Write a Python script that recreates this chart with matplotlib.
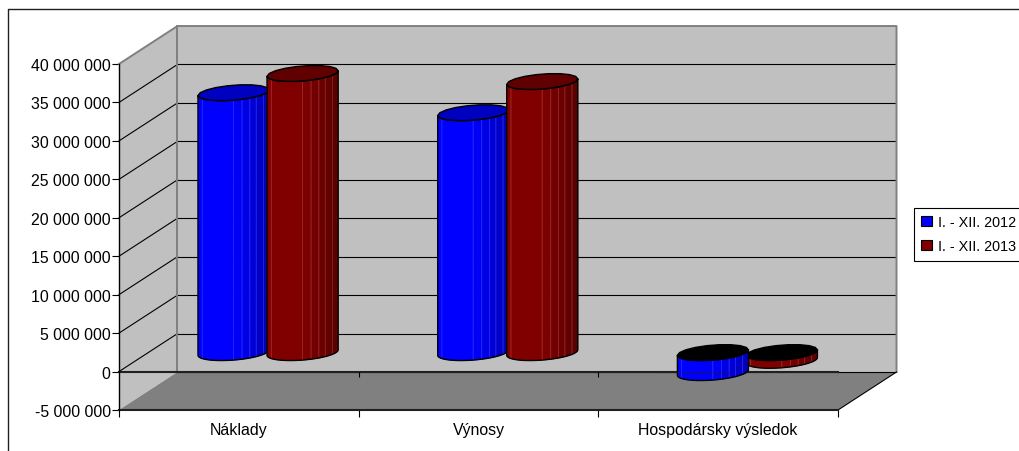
# -*- coding: utf-8 -*-
import numpy as np
import matplotlib
matplotlib.use('Agg')
import matplotlib.pyplot as plt
from matplotlib.patches import Polygon, Patch
from matplotlib.lines import Line2D

plt.rcParams['font.family'] = ['Liberation Sans', 'DejaVu Sans']

#%% data
categories = ['Náklady', 'Výnosy', 'Hospodársky výsledok']
series_names = ['I. - XII. 2012', 'I. - XII. 2013']
values_2012 = [33800000, 31200000, -2600000]
values_2013 = [36300000, 35250000, -1000000]
y_ticks = list(range(-5000000, 40000001, 5000000))
y_labels = ['-5 000 000', '0', '5 000 000', '10 000 000', '15 000 000', '20 000 000',
            '25 000 000', '30 000 000', '35 000 000', '40 000 000']

#%% style
W, H = 1019, 452
wall = '#c0c0c0'
floor = '#808080'
edge = '#808080'
colors = [(0, 0, 1), (0.5, 0, 0)]
top_colors = ['#0000c0', '#600000']

# depth of the 3d box, in axis units
depth_x = 58.5 / 239.67
depth_y = 4940000
bar_offset = 0.144
bar_a = 0.139
bar_f = 0.21
y_min, y_max = -5000000, 40000000
# facet edges across a cylinder, 0 left side, 1 right side
facet_edges = [0, 0.06, 0.5, 0.62, 0.73, 0.82, 0.92, 1]

fig = plt.figure(figsize=(W / 100, H / 100), dpi=100)
ax = fig.add_axes([119 / W, (H - 411) / H, (838 - 119) / W, (411 - 65) / H])
ax.set_xlim(0, 3)
ax.set_ylim(y_min, y_max)
ax.patch.set_visible(False)
for s in ['top', 'right', 'bottom']:
    ax.spines[s].set_visible(False)
ax.spines['left'].set_linewidth(1.0)
ax.spines['left'].set_zorder(6)

# walls and floor
ax.add_patch(Polygon([(0, y_min), (0, y_max), (depth_x, y_max + depth_y), (depth_x, y_min + depth_y)],
                     fc=wall, ec='none', clip_on=False, zorder=1))
ax.add_patch(Polygon([(depth_x, y_min + depth_y), (depth_x, y_max + depth_y),
                      (3 + depth_x, y_max + depth_y), (3 + depth_x, y_min + depth_y)],
                     fc=wall, ec='none', clip_on=False, zorder=1))
ax.add_patch(Polygon([(0, y_min), (3, y_min), (3 + depth_x, y_min + depth_y), (depth_x, y_min + depth_y)],
                     fc=floor, ec='none', clip_on=False, zorder=1))

# gridlines
for v in y_ticks[:-1]:
    if v > y_min:
        ax.plot([0, depth_x], [v, v + depth_y], color='k', lw=0.8, clip_on=False, zorder=2)
    ax.plot([depth_x, 3 + depth_x], [v + depth_y, v + depth_y], color='k', lw=0.8, clip_on=False, zorder=2)

# wall edges
ax.plot([0, depth_x, 3 + depth_x, 3 + depth_x], [y_max, y_max + depth_y, y_max + depth_y, y_min + depth_y],
        color=edge, lw=1.4, clip_on=False, zorder=3)
ax.plot([depth_x, depth_x], [y_min + depth_y, y_max + depth_y], color=edge, lw=1.4, clip_on=False, zorder=3)
ax.plot([3, 3 + depth_x], [y_min, y_min + depth_y], color='k', lw=0.8, clip_on=False, zorder=3)

# axis lines
ax.plot([0, 3], [y_min, y_min], color='#202020', lw=1.5, clip_on=False, zorder=3)
ax.plot([0, 3], [0, 0], color='#202020', lw=1.5, clip_on=False, zorder=3)
ax.vlines([1, 2, 3], -700000, 0, color='k', lw=0.8, zorder=3)


def ring(cx, cy, t):
    dx = bar_f * depth_x
    dy = bar_f * depth_y
    return np.column_stack([cx + bar_a * np.cos(t) + dx * np.sin(t), cy + dy * np.sin(t)])


def cylinder(center, value, color, top_color, z):
    cx = center + depth_x / 2
    base = depth_y / 2
    t0 = np.arctan2(bar_f * depth_x * 239.67, bar_a * 239.67)
    upper = base + max(value, 0)
    lower = base + min(value, 0)
    # front half of the ring, left to right, spaced by the facet edges
    p = np.array(facet_edges)
    t = t0 - np.pi + np.arccos(1 - 2 * p)
    for i in range(len(p) - 1):
        pos = (p[i] + p[i + 1]) / 2
        shade = 1 if pos < 0.5 else 1 - 0.6 * (pos - 0.5)
        fc = tuple(c * shade for c in color)
        ec = tuple(min(1, c * shade + 0.14) for c in color)
        arc = np.linspace(t[i], t[i + 1], 8)
        ax.add_patch(Polygon(np.vstack([ring(cx, upper, arc), ring(cx, lower, arc[::-1])]),
                             fc=fc, ec=ec, lw=0.6, clip_on=False, zorder=z))
    arc = np.linspace(t[0], t[-1], 40)
    ax.add_patch(Polygon(np.vstack([ring(cx, upper, arc), ring(cx, lower, arc[::-1])]),
                         fc='none', ec='k', lw=1.0, clip_on=False, zorder=z))
    # end cap: the inner side shows black on a negative bar
    cap = 'k' if value < 0 else top_color
    ax.add_patch(Polygon(ring(cx, upper, np.linspace(0, 2 * np.pi, 19)[:-1]), fc=cap, ec='k', lw=1.0,
                         clip_on=False, zorder=z))


for i in range(len(categories)):
    mid = i + 0.5
    # on the negative pair the first bar sits in front
    z1, z2 = (4, 4.5) if values_2012[i] >= 0 else (4.5, 4)
    cylinder(mid - bar_offset, values_2012[i], colors[0], top_colors[0], z1)
    cylinder(mid + bar_offset, values_2013[i], colors[1], top_colors[1], z2)

# thin zero line shows through the blue negative bar
ax.plot([2.25, 2.55], [0, 0], color='#202020', lw=0.8, alpha=0.6, zorder=5)

# ticks
ax.set_yticks(y_ticks)
ax.set_yticklabels(y_labels)
ax.tick_params(axis='y', length=5, width=0.8, pad=1, labelsize=11.4, colors='k')
ax.set_xticks([0, 1, 2, 3])
ax.set_xticklabels([])
ax.set_xticks([0.5, 1.5, 2.5], minor=True)
ax.set_xticklabels(categories, minor=True)
ax.tick_params(axis='x', which='major', length=5, width=0.8)
ax.tick_params(axis='x', which='minor', length=0, pad=9, labelsize=11.4)

# outer border, right and bottom edges fall outside the picture
fig.add_artist(Line2D([8 / W, 8 / W, 1], [0, 1 - 10 / H, 1 - 10 / H], color='#202020', lw=1.0))

# legend runs off the right edge like the original
handles = [Patch(fc=tuple(colors[0]), ec='k', lw=0.8), Patch(fc=tuple(colors[1]), ec='k', lw=0.8)]
leg = ax.legend(handles, series_names, loc='upper left', bbox_to_anchor=(914 / W, 1 - 209 / H),
                bbox_transform=fig.transFigure, fancybox=False, framealpha=1, edgecolor='k',
                fontsize=10.4, handlelength=0.72, handleheight=0.72, handletextpad=0.45,
                borderpad=0.5, borderaxespad=0, labelspacing=0.7)
leg.get_frame().set_linewidth(0.8)
leg.set_zorder(10)

fig.savefig('out.png', dpi=100)
